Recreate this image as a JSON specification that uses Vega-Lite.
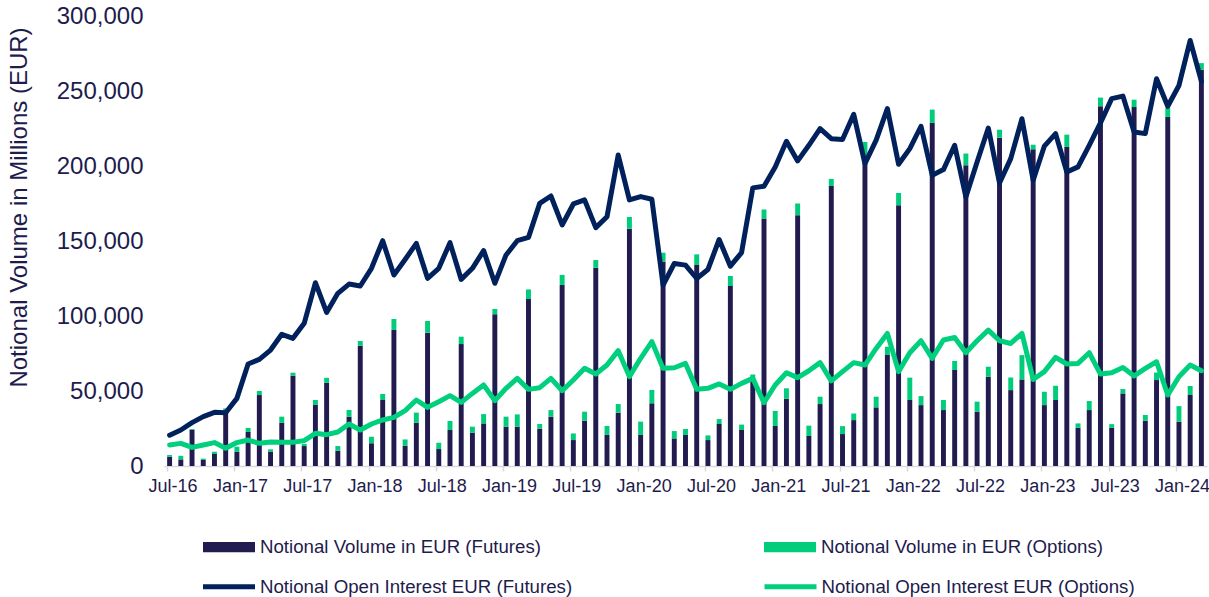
{
  "$schema": "https://vega.github.io/schema/vega-lite/v6.json",
  "width": 1043,
  "height": 450,
  "autosize": "none",
  "padding": {"left": 164, "top": 16, "right": 2, "bottom": 131},
  "background": "white",
  "config": {"view": {"stroke": null}, "font": "Liberation Sans"},
  "data": {"values": [
    {"m":"Jul-16","fut":6200,"opt":1100,"oiFut":20500,"oiOpt":14000},
    {"m":"Aug-16","fut":4400,"opt":2400,"oiFut":24000,"oiOpt":15100},
    {"m":"Sep-16","fut":24000,"opt":600,"oiFut":28900,"oiOpt":12400},
    {"m":"Oct-16","fut":4000,"opt":900,"oiFut":32900,"oiOpt":14000},
    {"m":"Nov-16","fut":8000,"opt":1500,"oiFut":35800,"oiOpt":15600},
    {"m":"Dec-16","fut":36900,"opt":1500,"oiFut":35500,"oiOpt":11800},
    {"m":"Jan-17","fut":9600,"opt":3300,"oiFut":45100,"oiOpt":15600},
    {"m":"Feb-17","fut":22700,"opt":2700,"oiFut":68000,"oiOpt":17300},
    {"m":"Mar-17","fut":47300,"opt":2700,"oiFut":71100,"oiOpt":15100},
    {"m":"Apr-17","fut":9600,"opt":1500,"oiFut":77300,"oiOpt":16000},
    {"m":"May-17","fut":28900,"opt":4000,"oiFut":87800,"oiOpt":15800},
    {"m":"Jun-17","fut":60200,"opt":2000,"oiFut":85100,"oiOpt":15800},
    {"m":"Jul-17","fut":13300,"opt":1500,"oiFut":95100,"oiOpt":16900},
    {"m":"Aug-17","fut":40700,"opt":3300,"oiFut":122200,"oiOpt":21800},
    {"m":"Sep-17","fut":55500,"opt":3300,"oiFut":102400,"oiOpt":20900},
    {"m":"Oct-17","fut":10200,"opt":3100,"oiFut":115100,"oiOpt":22700},
    {"m":"Nov-17","fut":32900,"opt":4400,"oiFut":121300,"oiOpt":28000},
    {"m":"Dec-17","fut":80200,"opt":3100,"oiFut":120000,"oiOpt":24000},
    {"m":"Jan-18","fut":15100,"opt":4400,"oiFut":131800,"oiOpt":28000},
    {"m":"Feb-18","fut":44000,"opt":4000,"oiFut":150200,"oiOpt":30700},
    {"m":"Mar-18","fut":90700,"opt":7300,"oiFut":127300,"oiOpt":32400},
    {"m":"Apr-18","fut":13500,"opt":4200,"oiFut":137700,"oiOpt":36900},
    {"m":"May-18","fut":28900,"opt":6700,"oiFut":148400,"oiOpt":44000},
    {"m":"Jun-18","fut":88900,"opt":7800,"oiFut":125100,"oiOpt":39100},
    {"m":"Jul-18","fut":11300,"opt":4200,"oiFut":131800,"oiOpt":42900},
    {"m":"Aug-18","fut":24000,"opt":6000,"oiFut":148900,"oiOpt":46900},
    {"m":"Sep-18","fut":81300,"opt":4900,"oiFut":124400,"oiOpt":42400},
    {"m":"Oct-18","fut":22200,"opt":4000,"oiFut":131800,"oiOpt":48400},
    {"m":"Nov-18","fut":28400,"opt":6200,"oiFut":143600,"oiOpt":54000},
    {"m":"Dec-18","fut":101100,"opt":3600,"oiFut":121800,"oiOpt":43600},
    {"m":"Jan-19","fut":26200,"opt":6700,"oiFut":140700,"oiOpt":51800},
    {"m":"Feb-19","fut":26200,"opt":8200,"oiFut":150200,"oiOpt":58400},
    {"m":"Mar-19","fut":111300,"opt":6400,"oiFut":152400,"oiOpt":51100},
    {"m":"Apr-19","fut":24900,"opt":3100,"oiFut":175100,"oiOpt":52200},
    {"m":"May-19","fut":32900,"opt":4400,"oiFut":180000,"oiOpt":58400},
    {"m":"Jun-19","fut":120700,"opt":6700,"oiFut":160700,"oiOpt":50200},
    {"m":"Jul-19","fut":17300,"opt":4400,"oiFut":174700,"oiOpt":57300},
    {"m":"Aug-19","fut":30200,"opt":6000,"oiFut":177400,"oiOpt":65100},
    {"m":"Sep-19","fut":132200,"opt":5100,"oiFut":158900,"oiOpt":61300},
    {"m":"Oct-19","fut":20700,"opt":6000,"oiFut":166200,"oiOpt":67300},
    {"m":"Nov-19","fut":35500,"opt":5800,"oiFut":207300,"oiOpt":76900},
    {"m":"Dec-19","fut":158200,"opt":7800,"oiFut":177400,"oiOpt":59600},
    {"m":"Jan-20","fut":20700,"opt":8900,"oiFut":179600,"oiOpt":71800},
    {"m":"Feb-20","fut":41800,"opt":8900,"oiFut":177800,"oiOpt":82900},
    {"m":"Mar-20","fut":136200,"opt":6000,"oiFut":120600,"oiOpt":65100},
    {"m":"Apr-20","fut":18400,"opt":4900,"oiFut":135000,"oiOpt":65500},
    {"m":"May-20","fut":20700,"opt":4000,"oiFut":133900,"oiOpt":68400},
    {"m":"Jun-20","fut":134000,"opt":7100,"oiFut":125000,"oiOpt":51100},
    {"m":"Jul-20","fut":17300,"opt":3100,"oiFut":131000,"oiOpt":51800},
    {"m":"Aug-20","fut":28000,"opt":3300,"oiFut":151000,"oiOpt":54700},
    {"m":"Sep-20","fut":120000,"opt":6700,"oiFut":133200,"oiOpt":51100},
    {"m":"Oct-20","fut":24000,"opt":3600,"oiFut":142300,"oiOpt":55100},
    {"m":"Nov-20","fut":58000,"opt":3000,"oiFut":185400,"oiOpt":58400},
    {"m":"Dec-20","fut":165000,"opt":6000,"oiFut":186500,"oiOpt":42200},
    {"m":"Jan-21","fut":26700,"opt":10000,"oiFut":199400,"oiOpt":54000},
    {"m":"Feb-21","fut":44900,"opt":6900,"oiFut":216500,"oiOpt":62200},
    {"m":"Mar-21","fut":167200,"opt":7800,"oiFut":203400,"oiOpt":58900},
    {"m":"Apr-21","fut":20000,"opt":6900,"oiFut":213800,"oiOpt":63500},
    {"m":"May-21","fut":41300,"opt":4900,"oiFut":224900,"oiOpt":68900},
    {"m":"Jun-21","fut":186700,"opt":4700,"oiFut":218200,"oiOpt":56700},
    {"m":"Jul-21","fut":21300,"opt":5300,"oiFut":217600,"oiOpt":62900},
    {"m":"Aug-21","fut":30600,"opt":4400,"oiFut":234500,"oiOpt":68900},
    {"m":"Sep-21","fut":201600,"opt":14400,"oiFut":201600,"oiOpt":67300},
    {"m":"Oct-21","fut":39100,"opt":7100,"oiFut":217200,"oiOpt":78400},
    {"m":"Nov-21","fut":74000,"opt":5500,"oiFut":238300,"oiOpt":88400},
    {"m":"Dec-21","fut":173800,"opt":8200,"oiFut":201200,"oiOpt":62900},
    {"m":"Jan-22","fut":44000,"opt":14900,"oiFut":211600,"oiOpt":75500},
    {"m":"Feb-22","fut":40600,"opt":6000,"oiFut":226500,"oiOpt":83500},
    {"m":"Mar-22","fut":228700,"opt":8900,"oiFut":193800,"oiOpt":71800},
    {"m":"Apr-22","fut":37300,"opt":6700,"oiFut":197600,"oiOpt":84000},
    {"m":"May-22","fut":64000,"opt":6000,"oiFut":213800,"oiOpt":85700},
    {"m":"Jun-22","fut":200500,"opt":7800,"oiFut":179400,"oiOpt":75500},
    {"m":"Jul-22","fut":36200,"opt":6700,"oiFut":202700,"oiOpt":83500},
    {"m":"Aug-22","fut":59500,"opt":6700,"oiFut":225300,"oiOpt":90600},
    {"m":"Sep-22","fut":218900,"opt":5300,"oiFut":188700,"oiOpt":83500},
    {"m":"Oct-22","fut":50600,"opt":8400,"oiFut":204900,"oiOpt":81700},
    {"m":"Nov-22","fut":57700,"opt":16200,"oiFut":231500,"oiOpt":88400},
    {"m":"Dec-22","fut":211100,"opt":3100,"oiFut":190500,"oiOpt":57700},
    {"m":"Jan-23","fut":40600,"opt":8900,"oiFut":213300,"oiOpt":62900},
    {"m":"Feb-23","fut":44000,"opt":9500,"oiFut":221600,"oiOpt":72400},
    {"m":"Mar-23","fut":212700,"opt":8200,"oiFut":196000,"oiOpt":68000},
    {"m":"Apr-23","fut":25500,"opt":2900,"oiFut":199400,"oiOpt":68400},
    {"m":"May-23","fut":37300,"opt":6000,"oiFut":213800,"oiOpt":75500},
    {"m":"Jun-23","fut":239800,"opt":5800,"oiFut":228700,"oiOpt":61300},
    {"m":"Jul-23","fut":25500,"opt":2400,"oiFut":244900,"oiOpt":62200},
    {"m":"Aug-23","fut":48400,"opt":2900,"oiFut":246600,"oiOpt":65700},
    {"m":"Sep-23","fut":239300,"opt":4900,"oiFut":222700,"oiOpt":60000},
    {"m":"Oct-23","fut":30200,"opt":3800,"oiFut":221600,"oiOpt":65100},
    {"m":"Nov-23","fut":57300,"opt":5000,"oiFut":258200,"oiOpt":69500},
    {"m":"Dec-23","fut":232700,"opt":6200,"oiFut":239800,"oiOpt":47300},
    {"m":"Jan-24","fut":29500,"opt":10400,"oiFut":253700,"oiOpt":59500},
    {"m":"Feb-24","fut":47300,"opt":6000,"oiFut":283700,"oiOpt":67300},
    {"m":"Mar-24","fut":264200,"opt":4400,"oiFut":256400,"oiOpt":63500}
  ]},
  "encoding": {
    "x": {
      "field": "m", "type": "nominal",
      "scale": {
        "domain": ["Jul-16","Aug-16","Sep-16","Oct-16","Nov-16","Dec-16","Jan-17","Feb-17","Mar-17","Apr-17","May-17","Jun-17","Jul-17","Aug-17","Sep-17","Oct-17","Nov-17","Dec-17","Jan-18","Feb-18","Mar-18","Apr-18","May-18","Jun-18","Jul-18","Aug-18","Sep-18","Oct-18","Nov-18","Dec-18","Jan-19","Feb-19","Mar-19","Apr-19","May-19","Jun-19","Jul-19","Aug-19","Sep-19","Oct-19","Nov-19","Dec-19","Jan-20","Feb-20","Mar-20","Apr-20","May-20","Jun-20","Jul-20","Aug-20","Sep-20","Oct-20","Nov-20","Dec-20","Jan-21","Feb-21","Mar-21","Apr-21","May-21","Jun-21","Jul-21","Aug-21","Sep-21","Oct-21","Nov-21","Dec-21","Jan-22","Feb-22","Mar-22","Apr-22","May-22","Jun-22","Jul-22","Aug-22","Sep-22","Oct-22","Nov-22","Dec-22","Jan-23","Feb-23","Mar-23","Apr-23","May-23","Jun-23","Jul-23","Aug-23","Sep-23","Oct-23","Nov-23","Dec-23","Jan-24","Feb-24","Mar-24"],
        "paddingInner": 0.56, "paddingOuter": 0.28
      },
      "axis": {
        "values": ["Jul-16","Jan-17","Jul-17","Jan-18","Jul-18","Jan-19","Jul-19","Jan-20","Jul-20","Jan-21","Jul-21","Jan-22","Jul-22","Jan-23","Jul-23","Jan-24"],
        "title": null, "bandPosition": 0, "labelOffset": 3.5, "labelAngle": 0,
        "labelOverlap": false, "labelFontSize": 18, "labelColor": "#1E1B4D",
        "labelPadding": 6, "tickSize": 5, "tickColor": "#D9D9D9", "domainColor": "#D9D9D9",
        "domainWidth": 1.5, "tickWidth": 1.5, "grid": false
      }
    }
  },
  "layer": [
    {
      "transform": [{"fold": ["fut", "opt"], "as": ["s", "v"]}],
      "mark": {"type": "bar"},
      "encoding": {
        "y": {
          "field": "v", "type": "quantitative", "stack": "zero",
          "title": "Notional Volume in Millions (EUR)",
          "scale": {"domain": [0, 300000], "nice": false},
          "axis": {
            "values": [0, 50000, 100000, 150000, 200000, 250000, 300000],
            "format": ",d", "ticks": false, "domain": false, "grid": false,
            "labelFontSize": 24, "labelColor": "#1E1B4D", "labelPadding": 21,
            "titleFontSize": 24, "titleFontWeight": "normal", "titleColor": "#1E1B4D",
            "titleX": -145, "titleY": 191, "titleAngle": 270, "titleBaseline": "middle", "titleAlign": "center"
          }
        },
        "color": {
          "field": "s", "type": "nominal",
          "scale": {"domain": ["fut", "opt"], "range": ["#211B50", "#00CC7B"]},
          "legend": {
            "orient": "none", "legendX": 39, "legendY": 505, "direction": "horizontal",
            "title": null, "padding": 0,
            "labelExpr": "datum.value == 'fut' ? 'Notional Volume in EUR (Futures)' : 'Notional Volume in EUR (Options)'",
            "symbolType": "M-1,-0.2H1V0.2H-1Z", "symbolSize": 2704, "symbolStrokeWidth": 0,
            "labelFontSize": 18.67, "labelColor": "#1E1B4D", "labelOffset": 5, "labelLimit": 0,
            "columnPadding": 223
          }
        },
        "order": {"field": "s", "type": "nominal"}
      }
    },
    {
      "transform": [{"fold": ["oiFut", "oiOpt"], "as": ["s2", "v2"]}],
      "mark": {"type": "line", "strokeWidth": 5, "strokeCap": "round", "strokeJoin": "round"},
      "encoding": {
        "y": {"field": "v2", "type": "quantitative", "title": "Notional Volume in Millions (EUR)"},
        "stroke": {
          "field": "s2", "type": "nominal",
          "scale": {"domain": ["oiFut", "oiOpt"], "range": ["#00215B", "#00D07E"]},
          "legend": {
            "orient": "none", "legendX": 36.5, "legendY": 542, "direction": "horizontal",
            "title": null, "padding": 0,
            "labelExpr": "datum.value == 'oiFut' ? 'Notional Open Interest EUR (Futures)' : 'Notional Open Interest EUR (Options)'",
            "symbolType": "stroke", "symbolSize": 2704, "symbolStrokeWidth": 5,
            "labelFontSize": 18.67, "labelColor": "#1E1B4D", "labelOffset": 2.5, "labelLimit": 0,
            "columnPadding": 181.5
          }
        }
      }
    }
  ]
}
